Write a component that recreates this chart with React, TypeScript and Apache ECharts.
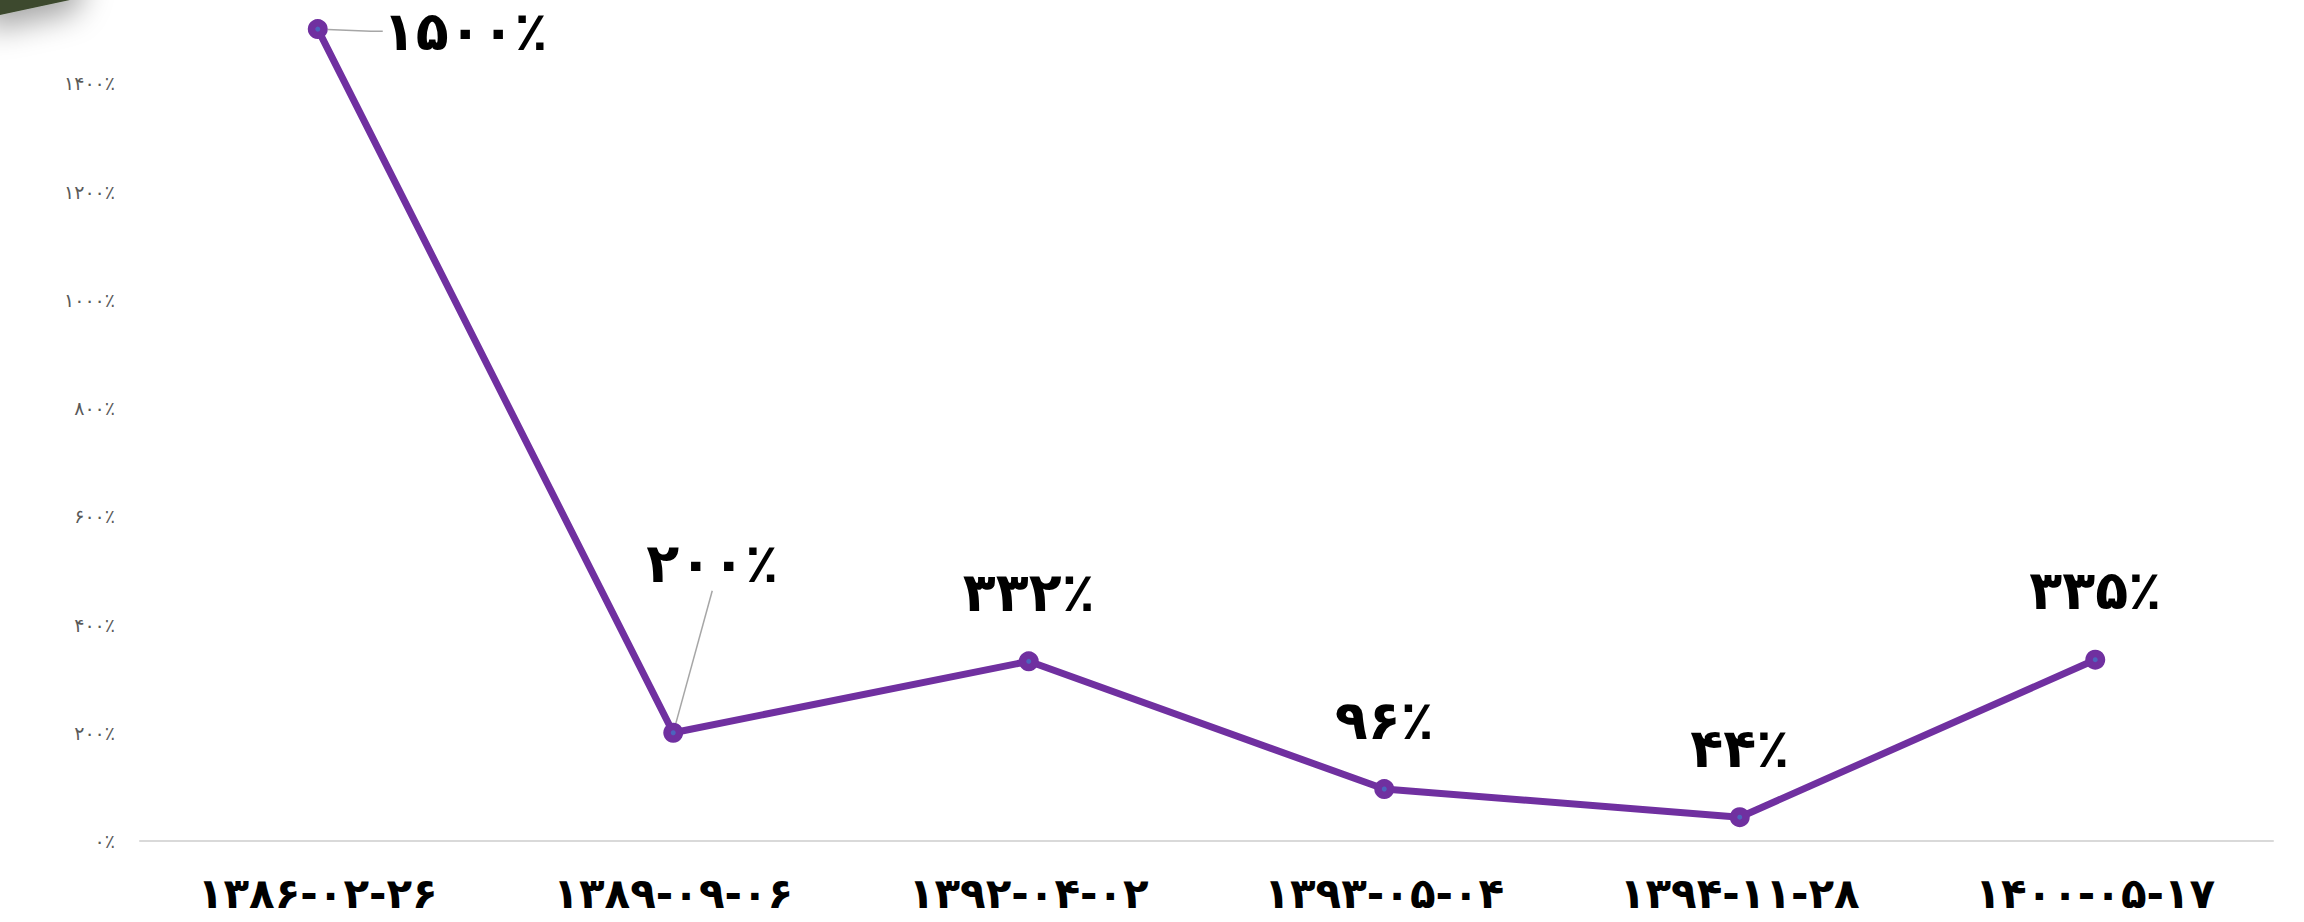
import React, { useEffect, useRef } from "react";
import * as echarts from "echarts";

const categories = [
  "۱۳۸۶-۰۲-۲۶",
  "۱۳۸۹-۰۹-۰۶",
  "۱۳۹۲-۰۴-۰۲",
  "۱۳۹۳-۰۵-۰۴",
  "۱۳۹۴-۱۱-۲۸",
  "۱۴۰۰-۰۵-۱۷",
];
const values = [1500, 200, 332, 96, 44, 335];
const yMin = 0;
const yMax = 1600;
const yInterval = 200;

const FA_DIGITS = "۰۱۲۳۴۵۶۷۸۹";
const toFa = (s: string) => s.replace(/\d/g, (d) => FA_DIGITS[Number(d)]);
const pct = (v: number) => toFa(String(v)) + "٪";

const FONT = "DejaVu Sans";
const SHIFT = 25; // chart canvas starts above the page top (plot is cropped)

export default function App() {
  const ref = useRef<HTMLDivElement>(null);
  useEffect(() => {
    if (!ref.current) return;
    const chart = echarts.init(ref.current, undefined, { renderer: "svg" });

    const seriesData = values.map((v, i) => {
      if (i === 0) {
        return {
          value: v,
          label: { position: "right", distance: 5 },
          labelLine: { show: true, length2: 12 },
        };
      }
      if (i === 1) {
        return { value: v, labelLine: { show: true, length2: 0 } };
      }
      return { value: v };
    });

    chart.setOption({
      animation: false,
      backgroundColor: "#ffffff",
      grid: { left: 140, right: 31, top: 0, bottom: 81, containLabel: false },
      xAxis: {
        type: "category",
        data: categories,
        boundaryGap: true,
        axisLine: { show: true, lineStyle: { color: "#D9D9D9", width: 2 } },
        axisTick: { show: false },
        axisLabel: {
          color: "#000000",
          fontFamily: FONT,
          fontWeight: "bold",
          fontSize: 42,
          margin: 31,
        },
        splitLine: { show: false },
      },
      yAxis: {
        type: "value",
        min: yMin,
        max: yMax,
        interval: yInterval,
        axisLine: { show: false },
        axisTick: { show: false },
        splitLine: { show: false },
        axisLabel: {
          color: "#595959",
          fontFamily: FONT,
          fontSize: 19,
          margin: 25,
          showMaxLabel: false,
          formatter: (v: number) => pct(v),
        },
      },
      graphic: [
        {
          type: "polygon",
          shape: {
            points: [
              [-20, SHIFT - 40],
              [82, SHIFT - 40],
              [70, SHIFT],
              [0, SHIFT + 15],
              [-20, SHIFT + 18],
            ],
          },
          style: {
            fill: "#3D4A2F",
            shadowBlur: 30,
            shadowColor: "rgba(0,0,0,0.35)",
            shadowOffsetX: 6,
            shadowOffsetY: 12,
          },
          silent: true,
          z: 10,
        },
      ],
      series: [
        {
          type: "line",
          data: seriesData,
          symbol: "circle",
          symbolSize: 20,
          lineStyle: { color: "#7030A0", width: 7 },
          itemStyle: { color: "#7030A0" },
          label: {
            show: true,
            position: "top",
            distance: 32,
            color: "#000000",
            fontFamily: FONT,
            fontWeight: "bold",
            fontSize: 54,
            formatter: (p: any) => pct(p.value),
          },
          labelLine: {
            show: false,
            lineStyle: { color: "#A6A6A6", width: 1.5 },
          },
          labelLayout: (params: any) => {
            if (params.dataIndex === 0) return { dx: 50, dy: 2 };
            if (params.dataIndex === 1) return { dx: 39, dy: -100 };
            return {};
          },
          z: 2,
        },
        {
          type: "scatter",
          data: values,
          symbol: "circle",
          symbolSize: 5,
          itemStyle: { color: "#4472C4" },
          silent: true,
          z: 3,
        },
      ],
    });
    return () => chart.dispose();
  }, []);
  return (
    <div
      ref={ref}
      style={{
        position: "fixed",
        left: 0,
        top: -SHIFT,
        width: 2304,
        height: 922 + SHIFT,
      }}
    />
  );
}
